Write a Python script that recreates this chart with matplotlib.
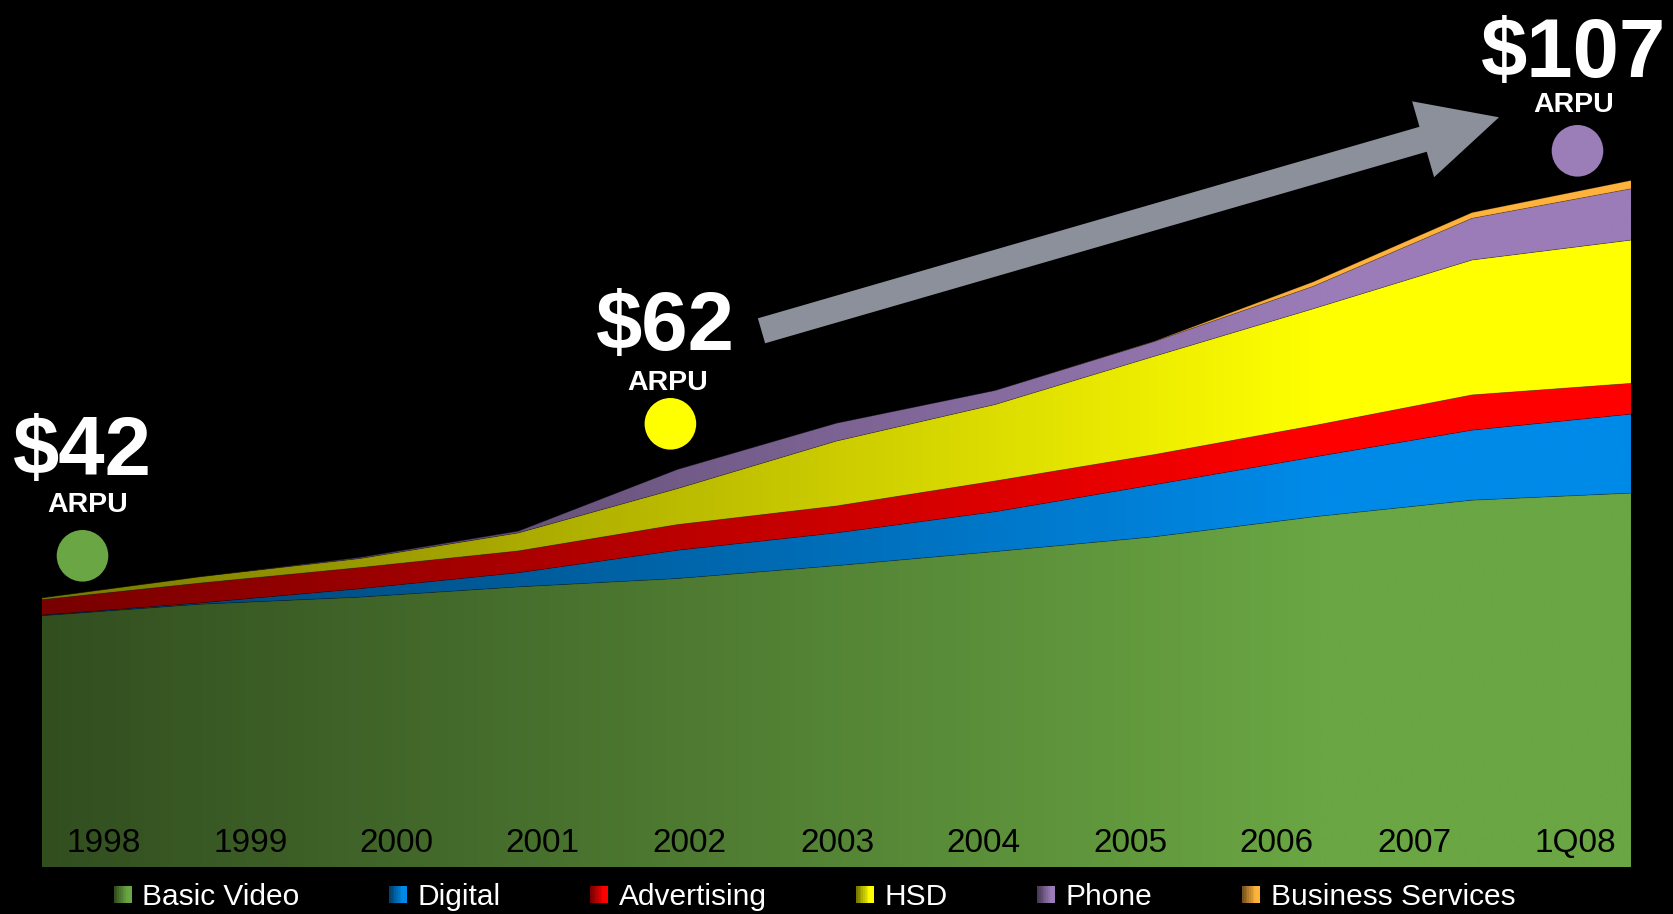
import numpy as np
import matplotlib
matplotlib.use("Agg")
import matplotlib.pyplot as plt
from matplotlib.patches import Rectangle, Circle, Polygon, FancyArrow
from matplotlib.legend_handler import HandlerBase
from matplotlib.colors import to_rgb

plt.rcParams['font.family'] = ['Liberation Sans', 'DejaVu Sans']

# monthly ARPU by product, $ per customer
periods = ['1998', '1999', '2000', '2001', '2002', '2003', '2004', '2005', '2006', '2007', '1Q08']
basic_video = [39.2, 41.0, 42.1, 43.7, 45.0, 47.0, 49.2, 51.5, 54.6, 57.2, 58.3]
digital = [0.1, 0.2, 1.3, 2.2, 4.4, 5.1, 6.2, 8.1, 9.3, 10.9, 12.3]
advertising = [2.4, 3.1, 3.3, 3.4, 4.0, 4.2, 4.8, 4.7, 4.9, 5.5, 4.8]
hsd = [0.3, 1.0, 1.4, 2.8, 5.6, 10.1, 11.9, 15.3, 18.2, 21.0, 22.3]
phone = [0.0, 0.0, 0.2, 0.3, 3.0, 2.8, 2.2, 2.3, 3.5, 6.5, 8.0]
business = [0.0, 0.0, 0.0, 0.0, 0.0, 0.0, 0.0, 0.05, 0.7, 0.9, 1.3]

names = ['Basic Video', 'Digital', 'Advertising', 'HSD', 'Phone', 'Business Services']
series = [basic_video, digital, advertising, hsd, phone, business]
colors = ['#6aa643', '#008ae8', '#ff0000', '#ffff00', '#9b7cb8', '#ffb23c']

# where the year labels sit along the x axis
label_pos = [0.393, 1.315, 2.230, 3.152, 4.074, 5.008, 5.926, 6.848, 7.772, 8.638, 9.651]


def shade(color, t):
    # dark on the left, full colour towards the right
    f = np.clip(0.47 + 0.66 * t, 0, 1)
    return np.array(to_rgb(color)) * f


class GradientHandler(HandlerBase):
    def create_artists(self, legend, orig_handle, xdescent, ydescent,
                       width, height, fontsize, trans):
        base = orig_handle.get_facecolor()
        n = 10
        arts = []
        for k in range(n):
            r = Rectangle((-xdescent + width * k / n, -ydescent), width / n + 0.3, height,
                          facecolor=shade(base, k / (n - 1)), edgecolor='none',
                          transform=trans)
            arts.append(r)
        return arts


fig = plt.figure(figsize=(16.74, 9.14), dpi=100, facecolor='black')
ax = fig.add_axes([0.0248, 0.0509, 0.9495, 0.9491])
ax.set_facecolor('black')

x = np.arange(len(periods))
ymax = 135.1
xmax = len(periods) - 1

t = np.linspace(0, 1, 600)
lower = np.zeros(len(periods))
for vals, col in zip(series, colors):
    upper = lower + np.array(vals)
    verts = np.concatenate([np.column_stack([x, upper]),
                            np.column_stack([x[::-1], lower[::-1]])])
    band = Polygon(verts, closed=True, facecolor='none', edgecolor='none')
    ax.add_patch(band)
    grad = np.array([shade(col, tt) for tt in t])[None, :, :]
    im = ax.imshow(grad, extent=[0, xmax, 0, ymax], aspect='auto',
                   origin='lower', interpolation='bilinear', zorder=1)
    im.set_clip_path(band)
    ax.plot(x, upper, color='black', lw=0.6, alpha=0.3, zorder=2)
    lower = upper

totals = lower
ax.set_xlim(0, xmax)
ax.set_ylim(0, ymax)
ax.axis('off')

for lx, lab in zip(label_pos, periods):
    ax.text(lx, 2.4, lab, ha='center', va='baseline', fontsize=24, color='black', zorder=3)

fig.legend([Rectangle((0, 0), 1, 1, facecolor=c) for c in colors], names,
           loc='center', bbox_to_anchor=(0.4866, 0.019), ncol=6, frameon=False,
           fontsize=21.5, labelcolor='white',
           handler_map={Rectangle: GradientHandler()},
           handlelength=0.58, handleheight=0.5, handletextpad=0.37,
           columnspacing=3.0, borderpad=0, borderaxespad=0)

# callouts and growth arrow, in pixel units
ov = fig.add_axes([0, 0, 1, 1])
ov.set_xlim(0, 1674)
ov.set_ylim(914, 0)
ov.axis('off')
ov.patch.set_alpha(0)

ov.add_patch(FancyArrow(761.5, 330.8, 737.5, -213.5, width=26, head_width=79,
                        head_length=79, length_includes_head=True,
                        color='#8c909a', lw=0))

callouts = [
    (0, 82.5, 475, 87.5, 511.7, (82.5, 555.8), '#6aa644'),
    (4, 665, 350, 668, 390, (670.4, 423.8), '#ffff00'),
    (10, 1574, 76.7, 1574, 111.7, (1577.5, 150.8), '#9b7db8'),
]
for idx, vx, vy, ax_, ay, cxy, ccol in callouts:
    ov.text(vx, vy, f"${totals[idx]:.0f}", ha='center', va='baseline',
            fontsize=60, fontweight='bold', color='white')
    ov.text(ax_, ay, 'ARPU', ha='center', va='baseline',
            fontsize=20.5, fontweight='bold', color='white')
    ov.add_patch(Circle(cxy, 25.8, facecolor=ccol, edgecolor='none'))

fig.savefig('out.png', dpi=100, facecolor='black')
